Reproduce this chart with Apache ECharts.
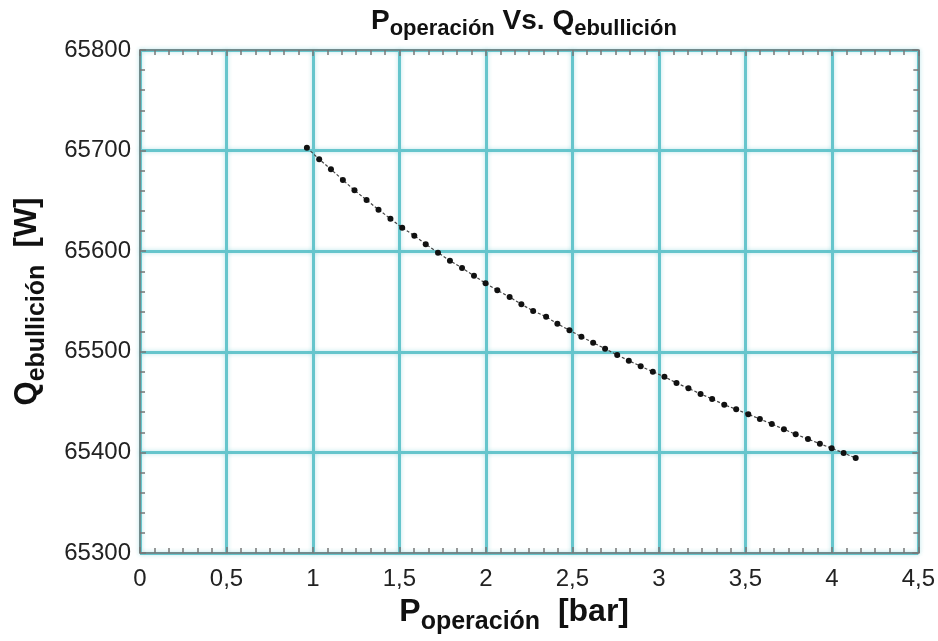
<!DOCTYPE html>
<html>
<head>
<meta charset="utf-8">
<script src="https://cdn.jsdelivr.net/npm/echarts@6/dist/echarts.min.js"></script>
<style>
  html, body { margin: 0; padding: 0; background: #fff; }
  #main { width: 938px; height: 641px; }
</style>
</head>
<body>
<div id="main"></div>
<script type="text/javascript">
// valores
var presion = [0.965, 1.036, 1.104, 1.173, 1.240, 1.310, 1.379, 1.448, 1.516, 1.586,
  1.652, 1.723, 1.792, 1.862, 1.931, 1.998, 2.066, 2.137, 2.205, 2.273,
  2.348, 2.413, 2.483, 2.552, 2.620, 2.689, 2.759, 2.826, 2.895, 2.965,
  3.032, 3.102, 3.171, 3.241, 3.308, 3.378, 3.447, 3.517, 3.584, 3.653,
  3.723, 3.791, 3.862, 3.931, 3.999, 4.068, 4.138];
var calor = [65702.9, 65691.4, 65681.4, 65670.8, 65660.5, 65650.9, 65641.3, 65632.3, 65623.4, 65615.4,
  65607.0, 65598.5, 65590.6, 65583.3, 65575.6, 65568.1, 65561.1, 65554.5, 65547.2, 65540.6,
  65534.9, 65527.9, 65521.4, 65515.0, 65509.0, 65503.1, 65496.8, 65491.2, 65485.6, 65480.2,
  65475.1, 65469.0, 65463.7, 65458.1, 65453.1, 65447.4, 65442.8, 65437.9, 65433.2, 65428.2,
  65423.0, 65418.0, 65413.3, 65408.6, 65404.1, 65399.4, 65394.4];

var fuente = '"Liberation Sans", Arial, sans-serif';

var puntos = [];
for (var i = 0; i < presion.length; i++) {
  puntos.push([presion[i], calor[i]]);
}

var lineaGris = { color: '#777', width: 1.5 };
var rejilla = { color: '#66c5cc', width: 3, shadowColor: 'rgba(98,195,202,0.45)', shadowBlur: 4 };

var myChart = echarts.init(document.getElementById('main'));

myChart.setOption({
  backgroundColor: '#fff',
  animation: false,
  title: {
    text: '{m|P}{s|operación}{m| Vs. Q}{s|ebullición}',
    left: 366,
    top: 2,
    textStyle: {
      rich: {
        m: { fontFamily: fuente, fontWeight: 'bold', fontSize: 28, color: '#111', verticalAlign: 'bottom', padding: [0, 0, 5, 0] },
        s: { fontFamily: fuente, fontWeight: 'bold', fontSize: 22, color: '#111', verticalAlign: 'bottom' }
      }
    }
  },
  grid: { left: 140, right: 18, top: 50, bottom: 88 },
  xAxis: [{
    type: 'value',
    min: 0,
    max: 4.5,
    interval: 0.5,
    name: '{m|P}{s|operación}{m|  [bar]}',
    nameLocation: 'middle',
    nameGap: 41,
    nameTextStyle: {
      padding: [0, 30, 0, 0],
      rich: {
        m: { fontFamily: fuente, fontWeight: 'bold', fontSize: 32, color: '#111', verticalAlign: 'bottom', padding: [0, 0, 7, 0] },
        s: { fontFamily: fuente, fontWeight: 'bold', fontSize: 25, color: '#111', verticalAlign: 'bottom' }
      }
    },
    axisLine: { onZero: false, lineStyle: lineaGris },
    axisTick: { inside: true, length: 6, lineStyle: lineaGris },
    minorTick: { show: true, splitNumber: 6, length: 5, lineStyle: lineaGris },
    splitLine: { show: true, lineStyle: rejilla },
    axisLabel: {
      fontFamily: fuente, fontSize: 24, color: '#222', margin: 14,
      formatter: function (v) { return String(v).replace('.', ','); }
    }
  }, {
    type: 'value',
    position: 'top',
    min: 0,
    max: 4.5,
    interval: 0.5,
    axisLine: { show: true, onZero: false, lineStyle: lineaGris },
    axisTick: { inside: true, length: 6, lineStyle: lineaGris },
    minorTick: { show: true, splitNumber: 6, length: 5, lineStyle: lineaGris },
    splitLine: { show: false },
    axisLabel: { show: false }
  }],
  yAxis: [{
    type: 'value',
    min: 65300,
    max: 65800,
    interval: 100,
    name: '{m|Q}{s|ebullición}{m|  [W]}',
    nameLocation: 'middle',
    nameGap: 90,
    nameTextStyle: {
      rich: {
        m: { fontFamily: fuente, fontWeight: 'bold', fontSize: 31, color: '#111', verticalAlign: 'bottom', padding: [0, 0, 7, 0] },
        s: { fontFamily: fuente, fontWeight: 'bold', fontSize: 25, color: '#111', verticalAlign: 'bottom' }
      }
    },
    axisLine: { show: true, onZero: false, lineStyle: lineaGris },
    axisTick: { show: true, inside: true, length: 6, lineStyle: lineaGris },
    minorTick: { show: true, splitNumber: 5, length: 5, lineStyle: lineaGris },
    splitLine: { show: true, lineStyle: rejilla },
    axisLabel: {
      fontFamily: fuente, fontSize: 24, color: '#222', margin: 9,
      formatter: function (v) { return String(v); }
    }
  }, {
    type: 'value',
    position: 'right',
    min: 65300,
    max: 65800,
    interval: 100,
    axisLine: { show: true, onZero: false, lineStyle: lineaGris },
    axisTick: { show: true, inside: true, length: 6, lineStyle: lineaGris },
    minorTick: { show: true, splitNumber: 5, length: 5, lineStyle: lineaGris },
    splitLine: { show: false },
    axisLabel: { show: false }
  }],
  series: [{
    name: 'Qebullicion',
    type: 'line',
    xAxisIndex: 0,
    yAxisIndex: 0,
    data: puntos,
    symbol: 'circle',
    symbolSize: 6,
    itemStyle: { color: '#111' },
    lineStyle: { color: '#444', width: 1.2, type: [3, 2] }
  }]
});
</script>
</body>
</html>
